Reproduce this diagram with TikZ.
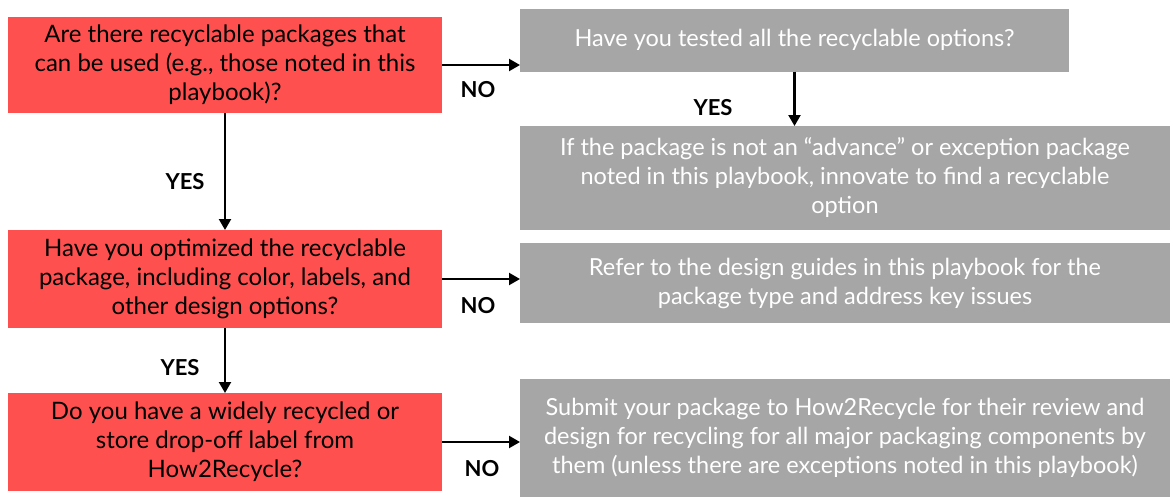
\documentclass[tikz,border=0pt]{standalone}
\usepackage{fontspec}
\setmainfont{Lato}
\usetikzlibrary{arrows.meta}

\definecolor{boxred}{HTML}{FF5050}
\definecolor{boxgray}{HTML}{A6A6A6}

\begin{document}
\begin{tikzpicture}[
    x=1pt, y=-1pt,
    question/.style={fill=boxred, text=black, align=center, inner sep=0pt, outer sep=0pt,
        minimum width=434pt, minimum height=98pt, font=\fontsize{24}{29}\selectfont},
    advice/.style={fill=boxgray, text=white, align=center, inner sep=0pt, outer sep=0pt,
        minimum width=650pt, font=\fontsize{23.5}{29}\selectfont},
    answer/.style={font=\bfseries\fontsize{22}{24}\selectfont},
    link/.style={draw, line width=2.2pt, -{Triangle[length=11pt,width=12pt]}}
]
    \useasboundingbox (0,0) rectangle (1173,499);

    % questions on the left
    \node[question, minimum height=96pt] (q-1) at (225,65)
        {Are there recyclable packages that\\can be used (e.g., those noted in this\\playbook)?};
    \node[question] (q-2) at (225,279)
        {Have you optimized the recyclable\\package, including color, labels, and\\other design options?};
    \node[question] (q-3) at (225,442)
        {Do you have a widely recycled or\\store drop-off label from\\How2Recycle?};

    % advice on the right
    \node[advice, minimum width=549pt, minimum height=63pt] (a-1) at (794.5,40)
        {Have you tested all the recyclable options?};
    \node[advice, minimum height=104pt] (a-2) at (845,178)
        {If the package is not an ``advance'' or exception package\\noted in this playbook, innovate to find a recyclable\\option};
    \node[advice, minimum height=80pt] (a-3) at (845,283)
        {Refer to the design guides in this playbook for the\\package type and address key issues};
    \node[advice, minimum height=118pt] (a-4) at (845,438)
        {Submit your package to How2Recycle for their review and\\design for recycling for all major packaging components by\\them (unless there are exceptions noted in this playbook)};

    % connectors
    \draw[link] (q-1.east) -- (q-1.east -| a-1.west);
    \draw[link] (a-1.south) -- (a-1.south |- a-2.north);
    \draw[link] (q-1.south) -- (q-2.north);
    \draw[link] (q-2.east) -- (q-2.east -| a-3.west);
    \draw[link] (q-2.south) -- (q-3.north);
    \draw[link] (q-3.east) -- (q-3.east -| a-4.west);

    % answers
    \node[answer] (no-1) at (478,90) {NO};
    \node[answer] (yes-1) at (713,108) {YES};
    \node[answer] (yes-2) at (185,182) {YES};
    \node[answer] (no-2) at (478,306) {NO};
    \node[answer] (yes-3) at (180,368) {YES};
    \node[answer] (no-3) at (482,469) {NO};
\end{tikzpicture}
\end{document}
